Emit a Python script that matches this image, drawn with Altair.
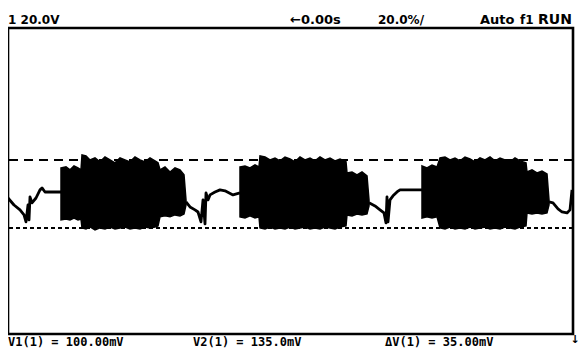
import altair as alt
import pandas as pd

# ---------------- data (sample index across screen, millivolts) ----------------
# quiet trace segments between bursts
segA_x = [0, 6, 12, 16, 18, 20, 21, 22, 24, 28, 32, 34, 37, 42, 53]
segA_v = [115.4, 111.8, 109.3, 106.7, 103.1, 111.8, 104.1, 116.0, 112.9, 115.4, 119.6, 120.6, 118.5, 118.5, 118.5]

segB_x = [178, 182, 187, 190, 193, 195, 197, 198, 200, 202, 207, 212, 217, 225, 232]
segB_v = [113.4, 110.8, 109.3, 108.2, 103.1, 114.4, 102.1, 118.0, 114.4, 117.0, 118.5, 119.6, 119.1, 117.0, 118.0]

segC_x = [361, 367, 372, 376, 378, 379, 380, 382, 385, 389, 392, 402, 414]
segC_v = [112.9, 111.3, 109.3, 107.7, 102.6, 116.0, 103.1, 114.4, 116.5, 118.5, 119.6, 119.6, 119.6]

segD_x = [541, 545, 550, 554, 559, 562, 563, 564]
segD_v = [113.4, 112.9, 109.8, 108.2, 107.7, 109.3, 114.4, 119.6]

# burst envelopes: sample index, upper mV, lower mV
b1_x = [53, 58, 62, 66, 70, 73, 74, 78, 82, 87, 92, 97, 102, 107, 112, 117, 122, 127, 132, 137, 142, 147, 150,
        152, 157, 162, 167, 172, 176, 178]
b1_hi = [130.9, 131.4, 129.9, 131.9, 130.9, 129.9, 137.6, 137.1, 135.0, 136.0, 134.0, 136.5, 135.0, 133.5, 136.0,
         135.0, 134.0, 136.5, 135.0, 134.0, 136.0, 134.5, 133.5, 129.9, 131.4, 128.8, 130.9, 129.9, 127.3, 114.4]
b1_lo = [104.1, 104.6, 104.1, 105.1, 104.1, 104.6, 100.0, 99.5, 100.5, 99.0, 100.0, 99.5, 100.5, 99.5, 100.0,
         100.5, 99.5, 100.0, 99.5, 100.5, 100.0, 100.5, 101.0, 105.7, 106.2, 105.7, 106.7, 106.2, 107.2, 111.8]

b2_x = [232, 237, 242, 247, 251, 252, 257, 262, 267, 272, 277, 282, 287, 292, 297, 302, 307, 312, 317, 322, 327,
        332, 338, 339, 344, 349, 354, 359, 361]
b2_hi = [131.4, 131.9, 130.9, 132.4, 131.4, 137.1, 136.5, 135.0, 136.0, 134.5, 136.5, 135.5, 134.0, 136.5, 135.0,
         136.0, 134.5, 136.5, 135.0, 136.0, 134.5, 135.5, 134.0, 128.3, 128.8, 127.3, 128.8, 126.8, 114.4]
b2_lo = [105.7, 105.1, 106.2, 105.1, 105.7, 100.0, 99.5, 100.5, 99.5, 100.0, 99.5, 100.5, 99.5, 100.0, 100.5,
         99.5, 100.0, 99.5, 100.5, 100.0, 99.5, 100.5, 101.0, 106.7, 106.2, 107.2, 106.7, 107.2, 111.3]

b3_x = [414, 419, 424, 429, 432, 437, 442, 447, 452, 457, 462, 467, 472, 477, 482, 487, 492, 497, 502, 507, 512,
        518, 519, 524, 529, 534, 539, 541]
b3_hi = [131.9, 130.9, 132.4, 131.4, 136.0, 136.5, 135.0, 136.0, 134.5, 136.5, 135.5, 134.0, 136.0, 135.0, 136.5,
         134.5, 136.0, 135.0, 134.0, 136.0, 134.5, 133.5, 128.8, 129.9, 128.3, 129.3, 127.8, 114.4]
b3_lo = [105.1, 105.7, 105.1, 105.7, 100.0, 99.5, 100.5, 99.5, 100.0, 99.5, 100.5, 99.5, 100.0, 100.5, 99.5,
         100.0, 99.5, 100.5, 100.0, 99.5, 100.5, 101.0, 107.7, 107.2, 107.7, 107.2, 107.7, 111.8]

# cursor levels
v1_level = 100.0
v2_level = 135.0

# screen texts
top_texts = ["1 20.0V", "\u21900.00s", "20.0%/", "Auto", "f1"]
run_text = ["RUN"]
bottom_texts = ["V1(1) = 100.00mV", "V2(1) = 135.0mV", "\u0394V(1) = 35.00mV"]

# ---------------- layout ----------------
W, H = 565, 306
X_DOM = [0, 565]
Y_DOM = [45.4, 202.9]

top_pos_x = [0, 282, 370, 472, 512]
top_pos_y = [-4, -4, -4, -4, -4]
top_sizes = [12, 13, 12, 13, 12]
run_pos_x = [530]
run_pos_y = [-4]
bot_pos_x = [0, 185, 377]
bot_pos_y = [H + 12, H + 12, H + 12]

xs = alt.Scale(domain=X_DOM, nice=False, zero=False)
ys = alt.Scale(domain=Y_DOM, nice=False, zero=False)

rows = []
for name, xx, vv in [("A", segA_x, segA_v), ("B", segB_x, segB_v), ("C", segC_x, segC_v), ("D", segD_x, segD_v)]:
    for a, b in zip(xx, vv):
        rows.append({"seg": name, "t": a, "mv": b})
trace_df = pd.DataFrame(rows)

rows = []
for name, xx, hi, lo in [("1", b1_x, b1_hi, b1_lo), ("2", b2_x, b2_hi, b2_lo), ("3", b3_x, b3_hi, b3_lo)]:
    for a, h, l in zip(xx, hi, lo):
        rows.append({"burst": name, "t": a, "hi": h, "lo": l})
burst_df = pd.DataFrame(rows)

trace = alt.Chart(trace_df).mark_line(color="black", strokeWidth=2.8, strokeJoin="round").encode(
    x=alt.X("t:Q", scale=xs, axis=None),
    y=alt.Y("mv:Q", scale=ys, axis=None),
    detail="seg:N",
)

bursts = alt.Chart(burst_df).mark_area(color="black", stroke="black", strokeWidth=1.5, opacity=1).encode(
    x=alt.X("t:Q", scale=xs, axis=None),
    y=alt.Y("hi:Q", scale=ys, axis=None),
    y2="lo:Q",
    detail="burst:N",
)

v2_rule = alt.Chart(pd.DataFrame({"mv": [v2_level]})).mark_rule(
    color="black", strokeWidth=2, strokeDash=[9, 6]
).encode(y=alt.Y("mv:Q", scale=ys, axis=None))

v1_rule = alt.Chart(pd.DataFrame({"mv": [v1_level]})).mark_rule(
    color="black", strokeWidth=2, strokeDash=[4, 3]
).encode(y=alt.Y("mv:Q", scale=ys, axis=None))

top_df = pd.DataFrame({"label": top_texts, "px": top_pos_x, "py": top_pos_y, "fs": top_sizes})
top_layer = alt.Chart(top_df).mark_text(
    align="left", baseline="alphabetic", font="DejaVu Sans", fontWeight="bold", color="black"
).encode(
    x=alt.X("px:Q", scale=None),
    y=alt.Y("py:Q", scale=None),
    size=alt.Size("fs:Q", scale=None, legend=None),
    text="label:N",
)

run_df = pd.DataFrame({"label": run_text, "px": run_pos_x, "py": run_pos_y})
run_layer = alt.Chart(run_df).mark_text(
    align="left", baseline="alphabetic", font="DejaVu Sans", fontWeight="bold", fontSize=14, color="black"
).encode(
    x=alt.X("px:Q", scale=None),
    y=alt.Y("py:Q", scale=None),
    text="label:N",
)

bot_df = pd.DataFrame({"label": bottom_texts, "px": bot_pos_x, "py": bot_pos_y})
bot_layer = alt.Chart(bot_df).mark_text(
    align="left", baseline="alphabetic", font="DejaVu Sans Mono", fontWeight="bold", fontSize=12, color="black"
).encode(
    x=alt.X("px:Q", scale=None),
    y=alt.Y("py:Q", scale=None),
    text="label:N",
)

arrow_df = pd.DataFrame({"label": ["\u2193"], "px": [W + 2], "py": [H + 9]})
arrow = alt.Chart(arrow_df).mark_text(
    align="center", baseline="alphabetic", font="DejaVu Sans", fontWeight="bold", fontSize=11, color="black"
).encode(
    x=alt.X("px:Q", scale=None),
    y=alt.Y("py:Q", scale=None),
    text="label:N",
)

chart = alt.layer(v2_rule, v1_rule, bursts, trace, top_layer, run_layer, bot_layer, arrow).properties(
    width=W,
    height=H,
    autosize=alt.AutoSizeParams(type="none"),
    padding={"left": 0, "top": 20, "right": 7, "bottom": 15},
    background="white",
).configure_view(stroke="black", strokeWidth=2.6)

chart.save("out.html", embed_options={"renderer": "svg", "actions": False})
